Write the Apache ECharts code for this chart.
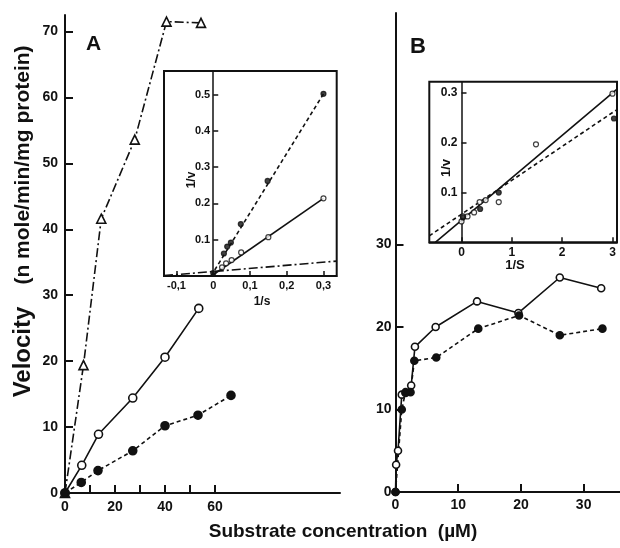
<!DOCTYPE html>
<html>
<head>
<meta charset="utf-8">
<script src="https://cdn.jsdelivr.net/npm/echarts@6/dist/echarts.min.js"></script>
<style>
  html, body { margin: 0; background: #fff; }
  #grafico { width: 620px; height: 548px; }
</style>
</head>
<body>
<div id="grafico"></div>
<script>
// --- Painel A: velocidade x concentração ---
const aAbertos = [[0, 0], [6.7, 4.2], [13.4, 8.9], [27.1, 14.4], [40, 20.6], [53.5, 28.0]];
const aCheios = [[0, 0], [6.5, 1.6], [13.2, 3.4], [27.1, 6.4], [40, 10.2], [53.2, 11.8], [66.4, 14.8]];
const aTriangulos = [[0, 0], [7.4, 19.4], [14.5, 41.6], [27.9, 53.6], [40.6, 71.5], [54.4, 71.3]];
const aTicksX = [10, 20, 30, 40, 50, 60];
const aLabelsX = [0, 20, 40, 60];
const aTicksY = [10, 20, 30, 40, 50, 60, 70];
const aLabelsY = [0, 10, 20, 30, 40, 50, 60, 70];

// --- Inset A: duplo recíproco ---
const insAAbertos = [[0.024, 0.024], [0.035, 0.035], [0.05, 0.044], [0.076, 0.065], [0.15, 0.107], [0.3, 0.214]];
const insACheios = [[0, 0.008], [0.029, 0.062], [0.038, 0.081], [0.048, 0.092], [0.075, 0.143], [0.148, 0.262], [0.3, 0.502]];
const insARetaAbertos = [[-0.005, 0], [0.3, 0.214]];
const insARetaCheios = [[-0.006, 0], [0.3, 0.502]];
const insARetaTriang = [[-0.134, 0.001], [0.336, 0.041]];
const insATicksX = [-0.1, 0, 0.1, 0.2, 0.3];
const insATicksY = [0.1, 0.2, 0.3, 0.4, 0.5];

// --- Painel B ---
const bAbertos = [[0, 0], [0.1, 3.3], [0.4, 5.0], [1.0, 11.8], [1.6, 12.0], [2.5, 12.9], [3.1, 17.6], [6.4, 20.0], [13, 23.1], [19.6, 21.7], [26.2, 26.0], [32.8, 24.7]];
const bCheios = [[0, 0], [1.0, 10], [1.6, 12.1], [2.4, 12.1], [3.0, 15.9], [6.5, 16.3], [13.2, 19.8], [19.7, 21.4], [26.2, 19.0], [33, 19.8]];
const bTicksX = [10, 20, 30];
const bLabelsX = [0, 10, 20, 30];
const bTicksY = [10, 20, 30];
const bLabelsY = [0, 10, 20, 30];

// --- Inset B ---
const insBAbertos = [[0, 0.042], [0.03, 0.052], [0.12, 0.052], [0.25, 0.06], [0.36, 0.081], [0.48, 0.085], [0.74, 0.081], [1.48, 0.197], [3.0, 0.299]];
const insBCheios = [[0.03, 0.05], [0.37, 0.067], [0.74, 0.10], [3.03, 0.249]];
const insBRetaAbertos = [[-0.52, 0], [3.09, 0.308]];
const insBRetaCheios = [[-0.64, 0.013], [3.09, 0.267]];
const insBTicksX = [0, 1, 2, 3];
const insBTicksY = [0.1, 0.2, 0.3];

const fonte = 'Liberation Sans, Arial, sans-serif';
const preto = '#111';

// limites dos eixos dos insets
const insAX = [-0.134, 0.336], insAY = [0, 0.565];
const insBX = [-0.64, 3.09], insBY = [0, 0.323];
const gridInsA = { left: 164, top: 71, width: 172.7, height: 205 };
const gridInsB = { left: 429.3, top: 81.7, width: 187.7, height: 160.6 };

// desloca o eixo y do inset para x = 0
function deslocZero(grid, lim) {
    return -grid.width * (0 - lim[0]) / (lim[1] - lim[0]);
}

function eixo(grid, min, max, ticks, labels, opts) {
    opts = opts || {};
    return {
        type: 'value',
        gridIndex: grid,
        min: min,
        max: max,
        offset: opts.offset || 0,
        z: opts.z || 0,
        splitLine: { show: false },
        axisLine: { show: true, onZero: false, lineStyle: { color: preto, width: opts.lw || 2 } },
        axisTick: { show: true, inside: true, length: opts.tick || 8, customValues: ticks, lineStyle: { color: preto, width: opts.lw || 2 } },
        axisLabel: {
            show: true, customValues: labels, margin: opts.margin || 6,
            color: preto, fontFamily: fonte, fontWeight: 'bold', fontSize: opts.fs || 14,
            formatter: opts.fmt
        }
    };
}

function linha(x, y, dados, tipo, simbolo, tam, cheio, z) {
    return {
        type: 'line', xAxisIndex: x, yAxisIndex: y, data: dados,
        symbol: simbolo, symbolSize: tam, showSymbol: simbolo !== 'none',
        lineStyle: { color: preto, width: 1.6, type: tipo },
        itemStyle: { color: cheio ? preto : '#fff', borderColor: preto, borderWidth: 1.6 },
        animation: false, z: z || 3
    };
}

function pontos(x, y, dados, tam, cheio) {
    return {
        type: 'scatter', xAxisIndex: x, yAxisIndex: y, data: dados,
        symbol: 'circle', symbolSize: tam,
        itemStyle: { color: cheio ? preto : '#fff', borderColor: preto, borderWidth: 1.2 },
        animation: false, z: 8
    };
}

const tracoPonto = [9, 3, 2, 3];
const tracejado = [4, 3];
const virgula = v => String(v).replace('.', ',');

const option = {
    backgroundColor: '#fff',
    animation: false,
    grid: [
        { left: 65, top: 15, width: 275, height: 478 },
        Object.assign({ show: true, backgroundColor: '#fff', borderColor: preto, borderWidth: 2, z: 5 }, gridInsA),
        { left: 395.5, top: 13, width: 224.5, height: 479 },
        Object.assign({ show: true, backgroundColor: '#fff', borderColor: preto, borderWidth: 2, z: 5 }, gridInsB)
    ],
    xAxis: [
        eixo(0, 0, 110, aTicksX, aLabelsX, { margin: 7 }),
        eixo(1, insAX[0], insAX[1], insATicksX, insATicksX, { fs: 11, tick: 5, lw: 1.5, margin: 4, fmt: virgula, z: 6 }),
        eixo(2, 0, 35.8, bTicksX, bLabelsX, { margin: 6 }),
        eixo(3, insBX[0], insBX[1], insBTicksX, insBTicksX, { fs: 12, tick: 5, lw: 1.5, margin: 4, z: 6 })
    ],
    yAxis: [
        eixo(0, 0, 72.5, aTicksY, aLabelsY, { margin: 7 }),
        eixo(1, insAY[0], insAY[1], insATicksY, insATicksY, { fs: 11, tick: 5, lw: 1.5, margin: 3, z: 6, offset: deslocZero(gridInsA, insAX) }),
        eixo(2, 0, 58.06, bTicksY, bLabelsY, { margin: 4 }),
        eixo(3, insBY[0], insBY[1], insBTicksY, insBTicksY, { fs: 12, tick: 5, lw: 1.5, margin: 4, z: 6, offset: deslocZero(gridInsB, insBX) })
    ],
    series: [
        // painel A
        linha(0, 0, aTriangulos, tracoPonto, 'triangle', 9, false),
        linha(0, 0, aAbertos, 'solid', 'circle', 8, false),
        linha(0, 0, aCheios, tracejado, 'circle', 8, true),
        // inset A
        linha(1, 1, insARetaCheios, tracejado, 'none', 0, true, 7),
        linha(1, 1, insARetaAbertos, 'solid', 'none', 0, true, 7),
        linha(1, 1, insARetaTriang, tracoPonto, 'none', 0, true, 7),
        pontos(1, 1, insACheios, 5, true),
        pontos(1, 1, insAAbertos, 5, false),
        // painel B
        linha(2, 2, bAbertos, 'solid', 'circle', 7, false),
        linha(2, 2, bCheios, tracejado, 'circle', 7, true),
        // inset B
        linha(3, 3, insBRetaAbertos, 'solid', 'none', 0, true, 7),
        linha(3, 3, insBRetaCheios, tracejado, 'none', 0, true, 7),
        pontos(3, 3, insBAbertos, 5, false),
        pontos(3, 3, insBCheios, 5, true)
    ],
    graphic: [
        { type: 'text', left: 86, top: 34, style: { text: 'A', font: 'bold 21px ' + fonte, fill: preto } },
        { type: 'text', left: 410, top: 36, style: { text: 'B', font: 'bold 22px ' + fonte, fill: preto } },
        { type: 'text', x: 23, y: 352, rotation: Math.PI / 2, style: { text: 'Velocity', font: 'bold 24px ' + fonte, fill: preto, align: 'center', verticalAlign: 'middle' } },
        { type: 'text', x: 23, y: 165, rotation: Math.PI / 2, style: { text: '(n mole/min/mg protein)', font: 'bold 21px ' + fonte, fill: preto, align: 'center', verticalAlign: 'middle' } },
        { type: 'text', x: 343, y: 532, style: { text: 'Substrate concentration  (\u00b5M)', font: 'bold 19px ' + fonte, fill: preto, align: 'center', verticalAlign: 'middle' } },
        { type: 'text', x: 192, y: 180, rotation: Math.PI / 2, z: 20, style: { text: '1/v', font: 'bold 12px ' + fonte, fill: preto, align: 'center', verticalAlign: 'middle' } },
        { type: 'text', x: 262, y: 302, style: { text: '1/s', font: 'bold 12px ' + fonte, fill: preto, align: 'center', verticalAlign: 'middle' } },
        { type: 'text', x: 446, y: 168, rotation: Math.PI / 2, z: 20, style: { text: '1/v', font: 'bold 13px ' + fonte, fill: preto, align: 'center', verticalAlign: 'middle' } },
        { type: 'text', x: 515, y: 265, style: { text: '1/S', font: 'bold 13px ' + fonte, fill: preto, align: 'center', verticalAlign: 'middle' } }
    ]
};

const grafico = echarts.init(document.getElementById('grafico'));
grafico.setOption(option);
</script>
</body>
</html>
